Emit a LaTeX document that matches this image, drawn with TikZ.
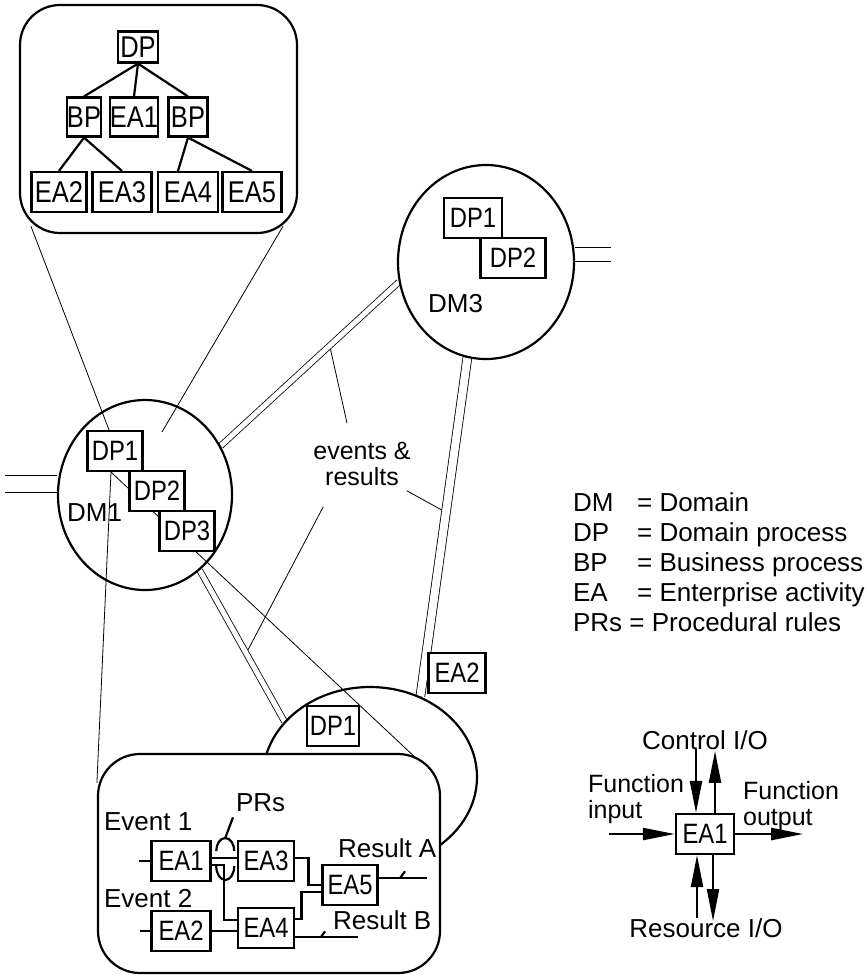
\documentclass[tikz,border=0pt]{standalone}
\usepackage{fontspec}
\setmainfont{Liberation Sans}
\newfontfamily\boxfont{Liberation Sans}[FakeStretch=0.85]
\usetikzlibrary{shapes.geometric, arrows.meta, positioning, calc, backgrounds}

\begin{document}
\begin{tikzpicture}[
        x=0.5pt, y=-0.5pt,
        line width=1.1pt,
        every node/.style={font=\fontsize{13pt}{15pt}\selectfont},
        box/.style={rectangle, draw, fill=white, inner sep=0pt, minimum width=28pt, minimum height=20pt, font=\boxfont\fontsize{14pt}{16pt}\selectfont},
        treebox/.style={box, font=\boxfont\fontsize{15pt}{16pt}\selectfont},
        dmnode/.style={ellipse, draw, inner sep=0pt},
        zoombox/.style={rectangle, draw, fill=white, rounded corners=20pt, inner sep=0pt},
        lbl/.style={inner sep=0pt, anchor=north west},
        twoline/.style={align=left, font=\fontsize{12.5pt}{13pt}\selectfont},
        dbl/.style={double, double distance=2.5pt},
        flow/.style={-{Triangle[length=16pt, width=6pt]}}
    ]
    \useasboundingbox (0,0) rectangle (867,976);

    % Domains and zoomed views
    \node[zoombox, minimum width=138.5pt, minimum height=114pt] (topbox) at (158.5,119) {};
    \node[dmnode, minimum width=87pt, minimum height=95pt] (dma) at (145,495) {};
    \node[dmnode, minimum width=88pt, minimum height=97pt] (dmc) at (486,262) {};
    \node[dmnode, minimum width=107pt, minimum height=90pt] (dmb) at (370,777) {};
    \node[zoombox, rounded corners=21pt, minimum width=171pt, minimum height=109.5pt] (botbox) at (269,863.5) {};

    % Process tree
    \node[treebox, minimum width=20pt, minimum height=15.5pt] (tdp) at (138,47) {DP};
    \node[treebox, minimum width=16pt, minimum height=19.5pt] (tbpa) at (84,117) {BP};
    \node[treebox, minimum width=22.5pt, minimum height=19.5pt] (tea1) at (134,117) {EA1};
    \node[treebox, minimum width=19.5pt, minimum height=19.5pt] (tbpb) at (188,117) {BP};
    \node[treebox, minimum width=27.5pt] (tea2) at (59,192) {EA2};
    \node[treebox, minimum width=29.5pt] (tea3) at (122,192) {EA3};
    \node[treebox, minimum width=30pt] (tea4) at (188,192) {EA4};
    \node[treebox, minimum width=29.5pt] (tea5) at (252,192) {EA5};

    \draw (tdp.south) -- (tbpa.north);
    \draw (tdp.south) -- (tea1.north);
    \draw (tdp.south) -- (tbpb.north);
    \draw (tbpa.south) -- (tea2.north);
    \draw (tbpa.south) -- (tea3.north);
    \draw (tbpb.south) -- ([xshift=-5pt]tea4.north);
    \draw (tbpb.south) -- (tea5.north);

    % DM1
    \node[box, minimum width=27.5pt] (dpa) at (115,451) {DP1};
    \node[box, minimum width=27.5pt] (dpb) at (157,491) {DP2};
    \node[box, minimum width=27.5pt] (dpc) at (187,531) {DP3};
    \node[lbl] (dmalbl) at (66,503) {DM1};

    % DM3
    \node[box, minimum width=29pt] (dcpa) at (473,218) {DP1};
    \node[box, minimum width=32.5pt] (dcpb) at (513,258) {DP2};
    \node[lbl] (dmclbl) at (427,293) {DM3};

    % third domain
    \node[box, minimum width=26pt] (dbpa) at (333,726) {DP1};
    \node[box, minimum width=28.5pt] (evea) at (457,673) {EA2};
    \node[inner sep=0pt, anchor=north, twoline, align=center] (evres) at (362,441) {events \&\\results};

    % Procedural view
    \node[box, minimum width=29.5pt] (bea1) at (181,861) {EA1};
    \node[box, minimum width=28pt] (bea3) at (266,861) {EA3};
    \node[box, minimum width=27.5pt] (bea5) at (350,885) {EA5};
    \node[box, minimum width=29.5pt] (bea2) at (181,931) {EA2};
    \node[box, minimum width=28pt] (bea4) at (266,928) {EA4};
    \node[lbl] (prs) at (235,793) {PRs};
    \node[lbl] (evone) at (103,812) {Event 1};
    \node[lbl] (evtwo) at (103,888) {Event 2};
    \node[lbl] (resa) at (337,838) {Result A};
    \node[lbl] (resb) at (332,910) {Result B};

    \coordinate (stubone) at ($(bea1.west)+(-11,0)$);
    \coordinate (stubtwo) at ($(bea2.west)+(-10,0)$);
    \coordinate (outa) at ($(bea5.east)+(48,-7)$);
    \coordinate (outb) at ($(bea4.east)+(63,9)$);
    \coordinate (prmid) at ($(bea1.east)!0.5!(bea3.west)$);

    \draw (stubone) -- (bea1.west);
    \draw (stubtwo) -- (bea2.west);
    \draw ($(bea1.east)+(0,-3)$) -- ($(bea3.west)+(0,-3)$);
    \draw ($(bea1.east)+(0,4)$) -| ($(bea4.west)+(-13,-8)$) -- ($(bea4.west)+(0,-8)$);
    \draw ($(bea3.east)+(0,-3)$) -| ($(bea5.west)+(-13,0)$) -- (bea5.west);
    \draw ($(bea4.east)+(0,-9)$) -| ($(bea5.west)+(-20,7)$) -- ($(bea5.west)+(0,7)$);
    \draw (bea2.east) -- (bea2.east -| bea4.west);
    \draw ($(bea5.east)+(0,-7)$) -- (outa);
    \draw ($(bea4.east)+(0,9)$) -- (outb);
    \draw ($(resa.south west)+(68,12)$) -- ($(bea5.east)+(21.5,-7)$);
    \draw ($(resb.south west)+(-7,0)$) -- ($(bea4.east)+(26,9)$);
    \draw ($(prmid)+(-8,-10)$) arc[start angle=180, end angle=0, x radius=4.5pt, y radius=6.5pt];
    \draw ($(prmid)+(-8,5)$) arc[start angle=180, end angle=360, x radius=4.5pt, y radius=7pt];
    \draw ($(prmid)+(1,-23)$) -- ($(prs.south west)+(-2,4)$);

    % Legend
    \node[lbl] (lgdm) at (572,492) {\makebox[32pt][l]{DM}= Domain};
    \node[lbl] (lgdp) at (572,522) {\makebox[32pt][l]{DP}= Domain process};
    \node[lbl] (lgbp) at (572,552) {\makebox[32pt][l]{BP}= Business process};
    \node[lbl] (lgea) at (572,582) {\makebox[32pt][l]{EA}= Enterprise activity};
    \node[lbl] (lgpr) at (572,612) {PRs = Procedural rules};

    % Activity interfaces
    \node[box, minimum width=29pt] (fea) at (705,834) {EA1};
    \node[lbl, anchor=north] (ctrl) at (705,730) {Control I/O};
    \node[lbl, anchor=north] (rsrc) at (706,918) {Resource I/O};
    \node[lbl, twoline] (fin) at (587,773) {Function\\input};
    \node[lbl, twoline] (fout) at (742,780) {Function\\output};

    \coordinate (finpt) at ($(fea.west)+(-66,0)$);
    \coordinate (foutpt) at ($(fea.east)+(68,0)$);
    \coordinate (ctrlin) at ($(fea.north)+(-9,-64)$);
    \coordinate (ctrlout) at ($(fea.north)+(10,-62)$);
    \coordinate (rsrcin) at ($(fea.south)+(-8,63)$);
    \coordinate (rsrcout) at ($(fea.south)+(8,66)$);
    \draw[flow] (finpt) -- (fea.west);
    \draw[flow] (fea.east) -- (foutpt);
    \draw[flow] (ctrlin) -- ($(fea.north)+(-9,0)$);
    \draw[flow] ($(fea.north)+(10,0)$) -- (ctrlout);
    \draw[flow] (rsrcin) -- ($(fea.south)+(-8,0)$);
    \draw[flow] ($(fea.south)+(8,0)$) -- (rsrcout);

    % Links between domains
    \coordinate (dpain) at ($(dpa.north)+(-6,0)$);
    \coordinate (dpaout) at ($(dpa.south)+(-4,0)$);
    \coordinate (dmafocus) at (162,432);
    \coordinate (evup) at ($(dma.33)!0.612!(dmc.193)$);
    \coordinate (evright) at ($(dmc.-101)!0.456!(dmb.58)$);
    \coordinate (evleft) at ($(dma.-54)!0.549!(dmb.147)$);
    \coordinate (evtop) at ($(evres.north)+(-15,-18)$);
    \coordinate (evbr) at ($(evres.south east)+(-5,4)$);
    \coordinate (evbl) at ($(evres.south west)+(11,20)$);
    \coordinate (dmcport) at ($(dmc.5)+(36,0)$);
    \coordinate (dmaport) at ($(dma.173)+(-52,0)$);

    \begin{scope}[on background layer]
        \draw (dpain) -- ($(topbox.south west)+(12,-8)$);
        \draw (dmafocus) -- ($(topbox.south east)+(-15,-8)$);
        \draw (dpaout) -- ($(botbox.north west)+(0,30)$);
        \draw (dpaout) -- ($(botbox.north east)+(-20,10)$);
        \draw (evtop) -- (evup);
        \draw (evbr) -- (evright);
        \draw (evbl) -- (evleft);
        \draw[dbl] (dma.33) -- (dmc.193);
        \draw[dbl, double distance=4pt] (dmc.-101) -- (dmb.58);
        \draw[dbl] (dma.-54) -- (dmb.147);
        \draw[dbl, double distance=6.5pt] (dmc.5) -- (dmcport);
        \draw[dbl, double distance=8pt] (dma.173) -- (dmaport);
    \end{scope}

\end{tikzpicture}
\end{document}
